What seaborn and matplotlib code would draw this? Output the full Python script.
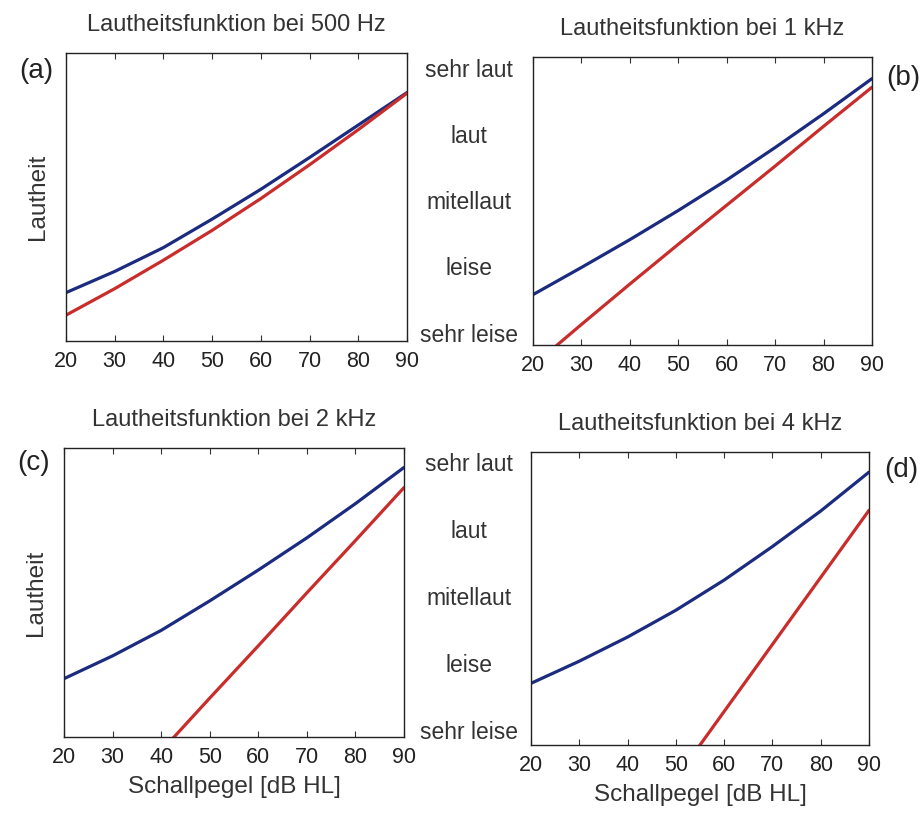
import numpy as np
import pandas as pd
import matplotlib
matplotlib.use("Agg")
import matplotlib.pyplot as plt
import matplotlib.transforms as mtransforms
import seaborn as sns

# ---------------- data ----------------
pegel = [20, 30, 40, 50, 60, 70, 80, 90]          # Schallpegel [dB HL]
levels = ["sehr leise", "leise", "mitellaut", "laut", "sehr laut"]

titles = ["Lautheitsfunktion bei 500 Hz", "Lautheitsfunktion bei 1 kHz",
          "Lautheitsfunktion bei 2 kHz", "Lautheitsfunktion bei 4 kHz"]
panel_tags = ["(a)", "(b)", "(c)", "(d)"]

# loudness (category units: 0 = sehr leise ... 4 = sehr laut)
blue_500 = [0.64, 0.96, 1.32, 1.75, 2.20, 2.68, 3.17, 3.66]
red_500 = [0.30, 0.70, 1.13, 1.58, 2.06, 2.57, 3.10, 3.65]
blue_1k = [0.61, 1.02, 1.44, 1.88, 2.34, 2.83, 3.34, 3.87]
red_1k = [-0.46, 0.16, 0.77, 1.37, 1.96, 2.55, 3.15, 3.74]
blue_2k = [0.81, 1.15, 1.53, 1.97, 2.43, 2.91, 3.42, 3.96]
red_2k = [-1.84, -1.05, -0.27, 0.52, 1.30, 2.09, 2.87, 3.66]
blue_4k = [0.74, 1.07, 1.43, 1.83, 2.28, 2.78, 3.31, 3.89]
red_4k = [-3.68, -2.68, -1.68, -0.68, 0.32, 1.32, 2.32, 3.32]

blues = [blue_500, blue_1k, blue_2k, blue_4k]
reds = [red_500, red_1k, red_2k, red_4k]

# ---------------- style ----------------
sns.set_theme(style="white")
plt.rcParams["font.family"] = ["Liberation Sans", "DejaVu Sans"]

W, H = 923, 814
fig = plt.figure(figsize=(W / 100, H / 100), dpi=100)

def rect(l, t, r, b):
    return [l / W, 1 - b / H, (r - l) / W, (b - t) / H]

rects = [rect(66, 53, 407, 341), rect(533, 57, 872, 345),
         rect(64, 448, 404, 737), rect(531, 452, 869, 745)]
ylims = [(-0.09, 4.257), (-0.15, 4.196), (-0.06, 4.25), (-0.18, 4.19)]

blue_c = "#1b2c80"
red_c = "#c92d2b"
txt_c = "#333333"

axes = []
for i in range(4):
    ax = fig.add_axes(rects[i])
    axes.append(ax)
    df = pd.DataFrame({"Schallpegel": pegel, "blau": blues[i], "rot": reds[i]})
    sns.lineplot(data=df, x="Schallpegel", y="blau", ax=ax, color=blue_c, lw=2.3)
    sns.lineplot(data=df, x="Schallpegel", y="rot", ax=ax, color=red_c, lw=2.3)
    ax.set_xlim(20, 90)
    ax.set_ylim(*ylims[i])
    ax.set_xticks(pegel)
    ax.set_xticklabels([str(p) for p in pegel], fontsize=15.5, color="#222222")
    ax.set_yticks([])
    ax.tick_params(axis="x", direction="in", length=4, width=0.8, top=True,
                   bottom=True, pad=7, color="#333333")
    for s in ax.spines.values():
        s.set_color("#222222")
        s.set_linewidth(1.0)
    ax.set_ylabel("")
    ax.set_xlabel("")
    ax.annotate(titles[i], xy=(0.5, 1.0), xycoords="axes fraction",
                xytext=(0, 20.5), textcoords="offset points",
                ha="center", va="center", fontsize=17, color=txt_c)

for ax in (axes[0], axes[2]):
    ax.set_ylabel("Lautheit", fontsize=17.5, color=txt_c, labelpad=12)
for ax in (axes[2], axes[3]):
    ax.set_xlabel("Schallpegel [dB HL]", fontsize=17.5, color=txt_c, labelpad=6)

# panel tags
fig.text(36 / W, 1 - 71 / H, panel_tags[0], fontsize=20, ha="center", va="center", color="#222222")
fig.text(903 / W, 1 - 78 / H, panel_tags[1], fontsize=20, ha="center", va="center", color="#222222")
fig.text(34 / W, 1 - 463 / H, panel_tags[2], fontsize=20, ha="center", va="center", color="#222222")
fig.text(901 / W, 1 - 470 / H, panel_tags[3], fontsize=20, ha="center", va="center", color="#222222")

# loudness category labels between the columns
for ax in (axes[0], axes[2]):
    tr = mtransforms.blended_transform_factory(fig.transFigure, ax.transData)
    for k, lab in enumerate(levels):
        ax.text(469 / W, k, lab, transform=tr, ha="center", va="center",
                fontsize=16.5, color=txt_c, clip_on=False)

fig.savefig("out.png", dpi=100, facecolor="white")
